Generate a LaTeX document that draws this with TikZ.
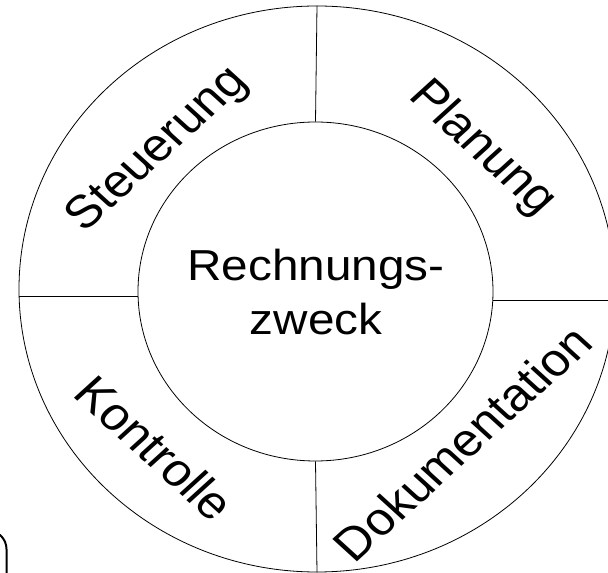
\documentclass[tikz,border=0pt]{standalone}
\usepackage{fontspec}
\setmainfont{Liberation Sans}
\usetikzlibrary{shapes.geometric}
\begin{document}
\begin{tikzpicture}[x=0.75pt,y=-0.75pt,
  ring/.style={draw, ellipse, inner sep=0pt, line width=0.6pt},
  divider/.style={line width=0.6pt},
  lbl/.style={inner sep=0pt, align=center, xscale=1.1},
  hub/.style={lbl, font=\fontsize{32.5}{40.5}\selectfont},
  sector/.style={lbl, font=\fontsize{34.5}{40}\selectfont}]
\useasboundingbox (0,0) rectangle (608,573);
\clip (0,0) rectangle (608,573);

% outer and inner rings
\node[ring, minimum width=447pt, minimum height=424.5pt] (outer) at (317,289) {};
\node[ring, minimum width=266.25pt, minimum height=254.25pt] (inner) at (315.5,291.5) {};

% the four dividers of the ring
\coordinate (lvl) at (0,296);
\coordinate (rvl) at (0,300);
\draw[divider] (inner.north) -- (outer.north);
\draw[divider] (inner.south) -- (outer.south);
\draw[divider] (inner.west |- lvl) -- (outer.west |- lvl);
\draw[divider] (inner.east |- rvl) -- (outer.east |- rvl);

% labels
\node[hub] (centre) at (316,292) {Rechnungs-\\zweck};
\node[sector, rotate=45] (steu) at (158,150) {Steuerung};
\node[sector, rotate=-45] (plan) at (482,149) {Planung};
\node[sector, rotate=-45] (kont) at (155,448) {Kontrolle};
\node[sector, rotate=45] (doku) at (462,443) {Dokumentation};

% corner of a neighbouring frame
\draw[line width=1.5pt, rounded corners=14] (-40,530.5) -- (6.5,530.5) -- (6.5,620);
\end{tikzpicture}
\end{document}
